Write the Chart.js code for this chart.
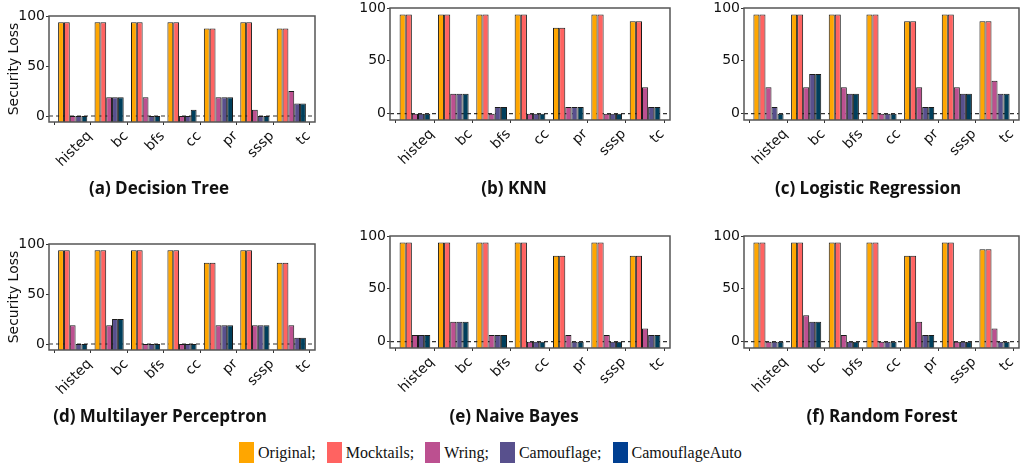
<!DOCTYPE html>
<html>
<head>
<meta charset="utf-8">
<script src="https://cdn.jsdelivr.net/npm/chart.js@4.4.1/dist/chart.umd.min.js"></script>
<style>
  body { margin: 0; background: #fff; }
  #wrap { position: relative; width: 1029px; height: 467px; overflow: hidden; }
  canvas { position: absolute; }
  .caption { position: absolute; font-family: "Open Sans", Lato, sans-serif; font-weight: bold; font-size: 17px; color: #111; transform: translateX(-50%); white-space: nowrap; }
  #legend { position: absolute; left: 239px; top: 442px; display: flex; align-items: center; font-family: "Liberation Serif", "DejaVu Serif", serif; font-size: 16px; color: #111; }
  .item { display: flex; align-items: center; margin-right: 11px; }
  .swatch { width: 15px; height: 21px; margin-right: 4px; }
</style>
</head>
<body>
<div id="wrap"></div>
<script>
const categories = ["histeq", "bc", "bfs", "cc", "pr", "sssp", "tc"];
const seriesNames = ["Original", "Mocktails", "Wring", "Camouflage", "CamouflageAuto"];
const barColors = ["#ffa600", "#ff6361", "#bc5090", "#58508d", "#003f5c"];
const legendColors = ["#ffa600", "#ff6361", "#bc5090", "#58508d", "#003f91"];
const yTicks = [0, 50, 100];

// one row per series: Original, Mocktails, Wring, Camouflage, CamouflageAuto
const decisionTree = [
    [93.75, 93.75, 93.75, 93.75, 87.5, 93.75, 87.5],
    [93.75, 93.75, 93.75, 93.75, 87.5, 93.75, 87.5],
    [0, 18.75, 18.75, 0, 18.75, 6.25, 25],
    [0, 18.75, 0, 0, 18.75, 0, 12.5],
    [0, 18.75, 0, 6.25, 18.75, 0, 12.5]
];
const knn = [
    [93.75, 93.75, 93.75, 93.75, 81.25, 93.75, 87.5],
    [93.75, 93.75, 93.75, 93.75, 81.25, 93.75, 87.5],
    [0, 18.75, 0, 0, 6.25, 0, 25],
    [0, 18.75, 6.25, 0, 6.25, 0, 6.25],
    [0, 18.75, 6.25, 0, 6.25, 0, 6.25]
];
const logisticRegression = [
    [93.75, 93.75, 93.75, 93.75, 87.5, 93.75, 87.5],
    [93.75, 93.75, 93.75, 93.75, 87.5, 93.75, 87.5],
    [25, 25, 25, 0, 25, 25, 31.25],
    [6.25, 37.5, 18.75, 0, 6.25, 18.75, 18.75],
    [0, 37.5, 18.75, 0, 6.25, 18.75, 18.75]
];
const multilayerPerceptron = [
    [93.75, 93.75, 93.75, 93.75, 81.25, 93.75, 81.25],
    [93.75, 93.75, 93.75, 93.75, 81.25, 93.75, 81.25],
    [18.75, 18.75, 0, 0, 18.75, 18.75, 18.75],
    [0, 25, 0, 0, 18.75, 18.75, 6.25],
    [0, 25, 0, 0, 18.75, 18.75, 6.25]
];
const naiveBayes = [
    [93.75, 93.75, 93.75, 93.75, 81.25, 93.75, 81.25],
    [93.75, 93.75, 93.75, 93.75, 81.25, 93.75, 81.25],
    [6.25, 18.75, 6.25, 0, 6.25, 6.25, 12.5],
    [6.25, 18.75, 6.25, 0, 0, 0, 6.25],
    [6.25, 18.75, 6.25, 0, 0, 0, 6.25]
];
const randomForest = [
    [93.75, 93.75, 93.75, 93.75, 81.25, 93.75, 87.5],
    [93.75, 93.75, 93.75, 93.75, 81.25, 93.75, 87.5],
    [0, 25, 6.25, 0, 18.75, 0, 12.5],
    [0, 18.75, 0, 0, 6.25, 0, 0],
    [0, 18.75, 0, 0, 6.25, 0, 0]
];

// plot frame positions (left, top, width, height) and caption centres
const panels = [
    { data: decisionTree, title: "(a) Decision Tree", left: 49, top: 16, w: 266, h: 106, ylabel: true, cx: 159, cy: 176 },
    { data: knn, title: "(b) KNN", left: 390, top: 8, w: 280, h: 112, ylabel: false, cx: 514, cy: 176 },
    { data: logisticRegression, title: "(c) Logistic Regression", left: 744, top: 8, w: 275, h: 112, ylabel: false, cx: 868, cy: 176 },
    { data: multilayerPerceptron, title: "(d) Multilayer Perceptron", left: 49, top: 244, w: 266, h: 106, ylabel: true, cx: 160, cy: 404 },
    { data: naiveBayes, title: "(e) Naive Bayes", left: 390, top: 236, w: 280, h: 112, ylabel: false, cx: 514, cy: 404 },
    { data: randomForest, title: "(f) Random Forest", left: 744, top: 236, w: 275, h: 112, ylabel: false, cx: 882, cy: 404 }
];

const wrap = document.getElementById("wrap");
const PAD_TOP = 10, PAD_RIGHT = 8, X_AXIS_H = 55;

// frame box + dashed zero line
const framePlugin = {
    id: "frame",
    beforeDatasetsDraw(chart) {
        const { ctx, chartArea, scales } = chart;
        const y0 = scales.y.getPixelForValue(0);
        ctx.save();
        ctx.strokeStyle = "#333";
        ctx.lineWidth = 1.2;
        ctx.setLineDash([4, 3]);
        ctx.beginPath();
        ctx.moveTo(chartArea.left, y0);
        ctx.lineTo(chartArea.right, y0);
        ctx.stroke();
        ctx.restore();
    },
    afterDraw(chart) {
        const { ctx, chartArea } = chart;
        ctx.save();
        ctx.strokeStyle = "#555";
        ctx.lineWidth = 1.5;
        ctx.strokeRect(chartArea.left, chartArea.top, chartArea.right - chartArea.left, chartArea.bottom - chartArea.top);
        ctx.restore();
    }
};

panels.forEach(p => {
    const yw = p.ylabel ? 49 : 40;
    const canvas = document.createElement("canvas");
    const cw = yw + p.w + PAD_RIGHT;
    const ch = PAD_TOP + p.h + X_AXIS_H;
    canvas.width = cw;
    canvas.height = ch;
    canvas.style.left = (p.left - yw) + "px";
    canvas.style.top = (p.top - PAD_TOP) + "px";
    canvas.style.width = cw + "px";
    canvas.style.height = ch + "px";
    wrap.appendChild(canvas);

    new Chart(canvas.getContext("2d"), {
        type: "bar",
        data: {
            datasets: seriesNames.map((name, s) => ({
                label: name,
                data: p.data[s].map((v, i) => ({ x: i, y: v })),
                backgroundColor: barColors[s],
                borderColor: "#1a1a1a",
                borderWidth: 1,
                base: -6,
                categoryPercentage: 0.8,
                barPercentage: 1.0
            }))
        },
        options: {
            responsive: false,
            animation: false,
            layout: { padding: { top: PAD_TOP, right: PAD_RIGHT, left: 0, bottom: 0 } },
            plugins: { legend: { display: false }, tooltip: { enabled: false } },
            scales: {
                x: {
                    type: "linear",
                    min: -0.65,
                    max: 6.65,
                    offset: false,
                    afterBuildTicks: axis => { axis.ticks = categories.map((c, i) => ({ value: i })); },
                    afterFit: axis => { axis.height = X_AXIS_H; },
                    grid: { drawOnChartArea: false, drawTicks: true, tickLength: 3, color: "#333" },
                    border: { display: false },
                    ticks: {
                        autoSkip: false,
                        minRotation: 45,
                        maxRotation: 45,
                        labelOffset: 17,
                        padding: 3,
                        color: "#111",
                        font: { family: "DejaVu Sans", size: 14 },
                        callback: v => categories[v]
                    }
                },
                y: {
                    min: -6,
                    max: 100,
                    afterBuildTicks: axis => { axis.ticks = yTicks.map(v => ({ value: v })); },
                    afterFit: axis => { axis.width = yw; },
                    grid: { drawOnChartArea: false, drawTicks: true, tickLength: 3, color: "#333" },
                    border: { display: false },
                    ticks: {
                        padding: 1,
                        color: "#111",
                        font: { family: "DejaVu Sans", size: 14 }
                    },
                    title: {
                        display: p.ylabel,
                        text: "Security Loss",
                        color: "#111",
                        padding: { top: 6, bottom: 0 },
                        font: { family: "DejaVu Sans", size: 14 }
                    }
                }
            }
        },
        plugins: [framePlugin]
    });

    const cap = document.createElement("div");
    cap.className = "caption";
    cap.textContent = p.title;
    cap.style.left = p.cx + "px";
    cap.style.top = p.cy + "px";
    wrap.appendChild(cap);
});

// legend under the grid
const legend = document.createElement("div");
legend.id = "legend";
seriesNames.forEach((name, s) => {
    const item = document.createElement("div");
    item.className = "item";
    const sw = document.createElement("div");
    sw.className = "swatch";
    sw.style.background = legendColors[s];
    const txt = document.createElement("span");
    txt.textContent = name + (s < seriesNames.length - 1 ? ";" : "");
    item.appendChild(sw);
    item.appendChild(txt);
    legend.appendChild(item);
});
wrap.appendChild(legend);
</script>
</body>
</html>
